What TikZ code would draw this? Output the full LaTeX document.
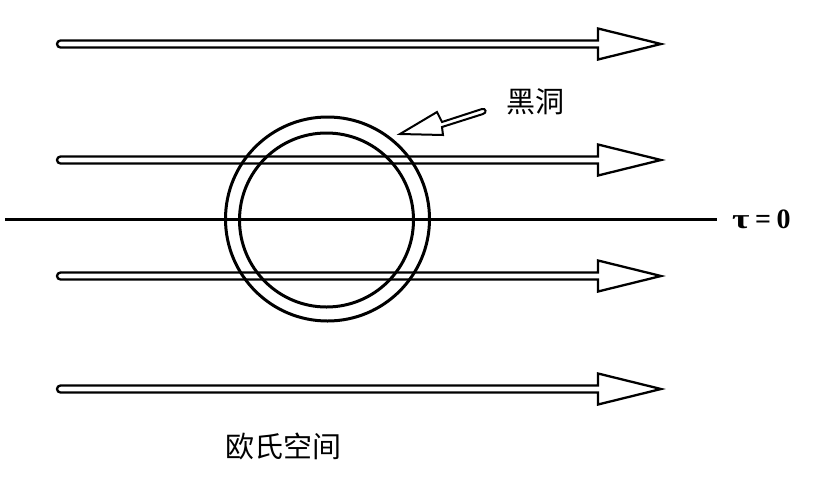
\documentclass[tikz,border=0pt]{standalone}
\usepackage{fontspec}
\newfontfamily\cjk{Noto Sans CJK SC}
\newfontfamily\tfont{Liberation Serif}
\begin{document}
\begin{tikzpicture}[x=1pt,y=-1pt,
  hollow/.style={draw=black, line width=2.3pt, line join=miter},
  ring/.style={draw=black, line width=3pt},
  cjklabel/.style={font=\cjk\fontsize{29}{32}\selectfont, inner sep=0pt},
  taulabel/.style={font=\tfont\bfseries\fontsize{28}{30}\selectfont, inner sep=0pt}]
\useasboundingbox (0,0) rectangle (827,488);
% rings (black hole)
\draw[ring] (327.5,219) circle (102);
\draw[ring] (326.5,220) circle (87);
% tau = 0 line
\coordinate (lstart) at (5,219.5);
\node[taulabel, anchor=west] (tau) at (732,219.5) {\scalebox{1.35}[1]{τ}\hspace{5.5pt}=\hspace{5.5pt}0};
\draw[line width=2.2pt] (lstart) -- (717,219.5);
% hollow arrows
\foreach \y in {44,160,276,389} {
  \draw[hollow] (70,\y-3.5) [rounded corners=3.5pt] -- (57,\y-3.5) -- (57,\y+3.5) [sharp corners] -- (598,\y+3.5) -- (598,\y+15.5) -- (661,\y) -- (598,\y-15.5) -- (598,\y-3.5) -- cycle;
}
% pointer arrow
\draw[hollow, line width=2pt] (482,109) -- (442,122) -- (437,112) -- (400,134) -- (443,135) -- (442,127) -- (483,114) .. controls (487,113) and (486,108) .. (482,109) -- cycle;
% labels
\node[cjklabel] (bh) at (535,102) {黑洞};
\node[cjklabel] (eu) at (283,446) {欧氏空间};
\end{tikzpicture}
\end{document}
